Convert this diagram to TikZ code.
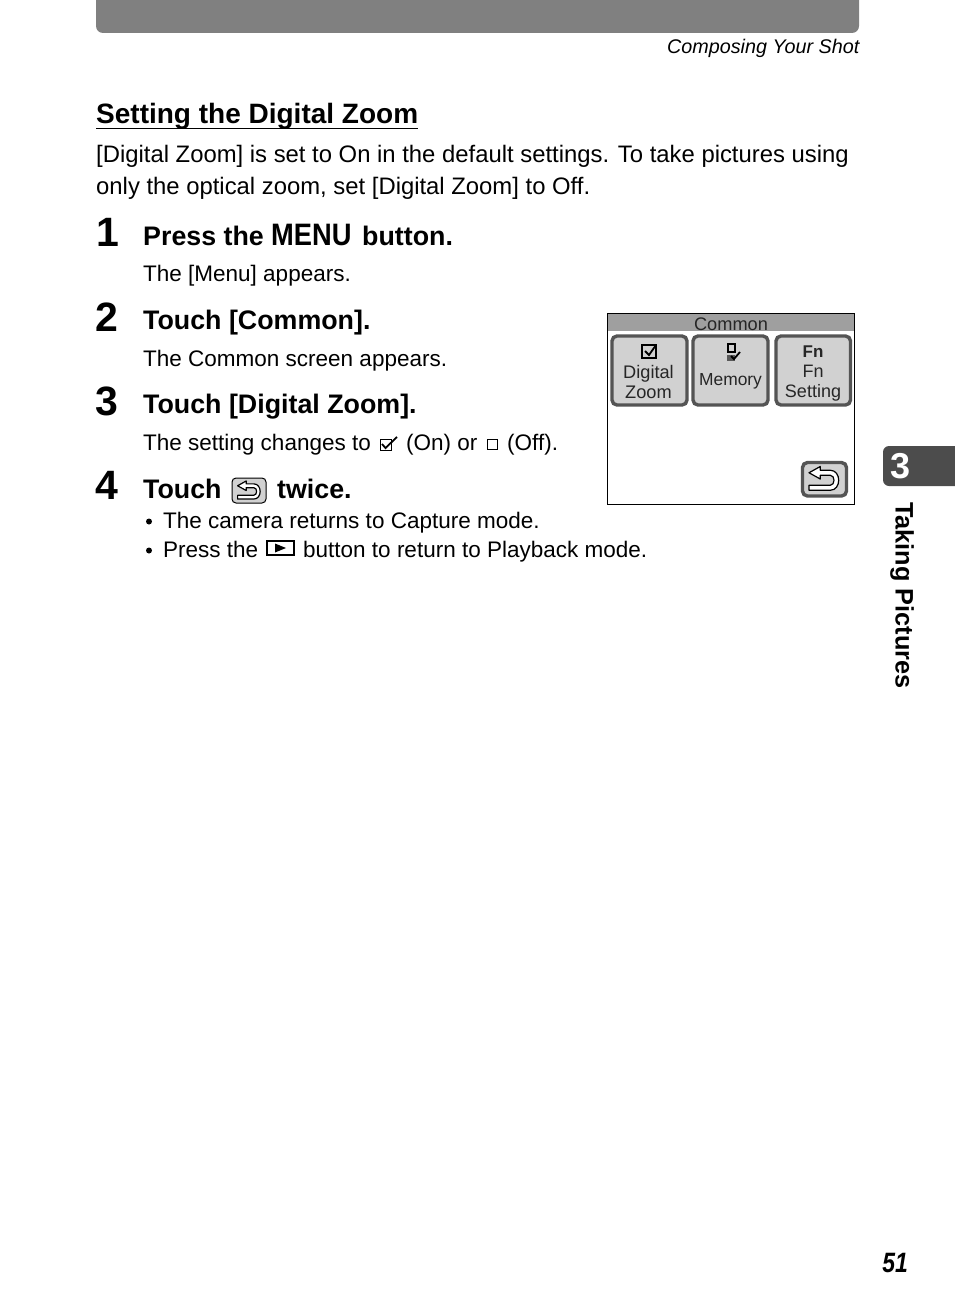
\documentclass[tikz,border=0pt]{standalone}
\usepackage{fontspec}
\setmainfont{Liberation Sans}
\usetikzlibrary{positioning}
\definecolor{bargray}{gray}{0.5}
\definecolor{tabgray}{gray}{0.3}
\definecolor{keygray}{gray}{0.82}
\definecolor{keyedge}{gray}{0.33}
\tikzset{
  txt/.style={anchor=base west,inner sep=0pt,font=\fontsize{22.5}{28}\selectfont},
  intro/.style={txt,font=\fontsize{23.85}{28}\selectfont},
  head/.style={txt,font=\fontsize{26.8}{30}\selectfont\bfseries},
  num/.style={txt,font=\fontsize{41}{44}\selectfont\bfseries},
  key/.style={draw=keyedge,fill=keygray,line width=3.4pt,rounded corners=5pt},
  keytxt/.style={inner sep=0pt,align=center,font=\fontsize{18.2}{20.5}\selectfont,text=black!85},
}
% back arrow icon, #1 is the centre, #2 the scale
\newcommand{\backicon}[2]{
  \draw[line width=1.2pt,fill=white,shift={#1},scale=#2,line join=round]
    (-12,-5) -- (-3,-10) -- (-3,-7) -- (5,-7) .. controls (14,-7) and (14,9) .. (5,9)
    -- (-12,9) -- (-12,5) -- (5,5) .. controls (9,5) and (9,-3) .. (5,-3) -- (-3,-3) -- (-3,0) -- cycle;
}
\begin{document}
\begin{tikzpicture}[x=1pt,y=-1pt]
  \useasboundingbox (0,0) rectangle (954,1314);

  % Top bar
  \fill[bargray,rounded corners=7pt] (96,-12) rectangle (859,33);
  \node[txt,anchor=base east,font=\fontsize{19.75}{24}\selectfont\itshape] (shot) at (859.5,53) {Composing Your Shot};

  % Title and intro
  \node[head,font=\fontsize{28}{32}\selectfont\bfseries] (title) at (96,123) {Setting the Digital Zoom};
  \draw[line width=1.3pt] (title.base west)+(0,5.5) -- ++(322,5.5);
  \node[intro] (introa) at (96,162) {[Digital Zoom] is set to On in the default settings. To take pictures using};
  \node[intro] (introb) at (96,194.5) {only the optical zoom, set [Digital Zoom] to Off.};

  % Step 1
  \node[num] (numa) at (96,246) {1};
  \node[head] (stepa) at (143,245) {Press the};
  \node[head,font=\fontsize{31}{30}\selectfont\bfseries\addfontfeature{FakeStretch=0.88}] (menu) at (271,245) {MENU};
  \node[head] (stepb) at (362,245) {button.};
  \node[txt] (texta) at (143,281.5) {The [Menu] appears.};

  % Step 2
  \node[num] (numb) at (95,331) {2};
  \node[head] (stepc) at (143,329) {Touch [Common].};
  \node[txt] (textb) at (143,366.5) {The Common screen appears.};

  % Step 3
  \node[num] (numc) at (95,415) {3};
  \node[head] (stepd) at (143,413) {Touch [Digital Zoom].};
  \node[txt] (textc) at (143,450.5) {The setting changes to};
  \draw[line width=0.9pt] (380,439) rectangle (391,450);
  \draw[line width=1.8pt] (382,444) -- (385.5,448) -- (397,437);
  \node[txt] (textd) at (406,450.5) {(On) or};
  \draw[line width=0.9pt] (487,439) rectangle (497,449);
  \node[txt] (texte) at (507,450.5) {(Off).};

  % Step 4
  \node[num] (numd) at (95,499) {4};
  \node[head] (stepe) at (143,498) {Touch};
  \draw[line width=1pt,fill=keygray,rounded corners=4pt] (232,478) rectangle (266,503);
  \backicon{(249,490.5)}{0.95}
  \node[head] (stepf) at (277,498) {twice.};
  \fill (149,521.5) circle (3);
  \node[txt] (bulleta) at (163,528.5) {The camera returns to Capture mode.};
  \fill (149,550.5) circle (3);
  \node[txt] (bulletb) at (163,557.5) {Press the};
  \draw[line width=1.4pt] (267,541) rectangle (294,555);
  \fill (275,543.5) -- (286,548) -- (275,552.5) -- cycle;
  \node[txt] (bulletc) at (303,557.5) {button to return to Playback mode.};

  % Screen
  \draw[fill=white,line width=1pt] (607,313) rectangle (854.5,504);
  \fill[gray!75] (608,314) rectangle (854,331);
  \node[keytxt] (common) at (731,324) {Common};
  \draw[key] (612,336) rectangle (687,405);
  \draw[key] (693,336) rectangle (768,405);
  \draw[key] (776,336) rectangle (850.5,405);
  \node[keytxt] (zoom) at (648.5,382) {Digital\\Zoom};
  \node[keytxt,font=\fontsize{17.4}{20}\selectfont] (memory) at (730.5,381) {Memory};
  \node[keytxt,font=\fontsize{18}{20}\selectfont] (fnset) at (813,383.5) {Fn\\Setting};
  \node[keytxt,font=\fontsize{17}{20}\selectfont\bfseries] (fn) at (813,352) {Fn};
  % little marks
  \draw[line width=1.1pt] (642,345) rectangle (656,358);
  \draw[line width=1.8pt] (645,351) -- (649,355) -- (656,345);
  \draw[line width=1.4pt] (728,344) rectangle (735,352);
  \fill[gray!70!black] (727,355) rectangle (735,361);
  \draw[line width=1.8pt] (731,356) -- (734,359) -- (740,352);
  \draw[key] (802.5,462.5) rectangle (846.5,496);
  \backicon{(824,479)}{1.25}

  % Chapter tab
  \fill[tabgray,rounded corners=6pt] (883,446) rectangle (970,486);
  \node[txt,anchor=center,text=white,font=\fontsize{36}{36}\selectfont\bfseries] (chap) at (900,466) {3};
  \node[txt,rotate=-90,anchor=base west,font=\fontsize{25.3}{28}\selectfont\bfseries] (side) at (895.5,502) {Taking Pictures};

  % Page number
  \node[txt,anchor=base east,font=\fontsize{28}{28}\selectfont\bfseries\itshape\addfontfeature{FakeStretch=0.82}] (page) at (908,1272) {51};
\end{tikzpicture}
\end{document}
